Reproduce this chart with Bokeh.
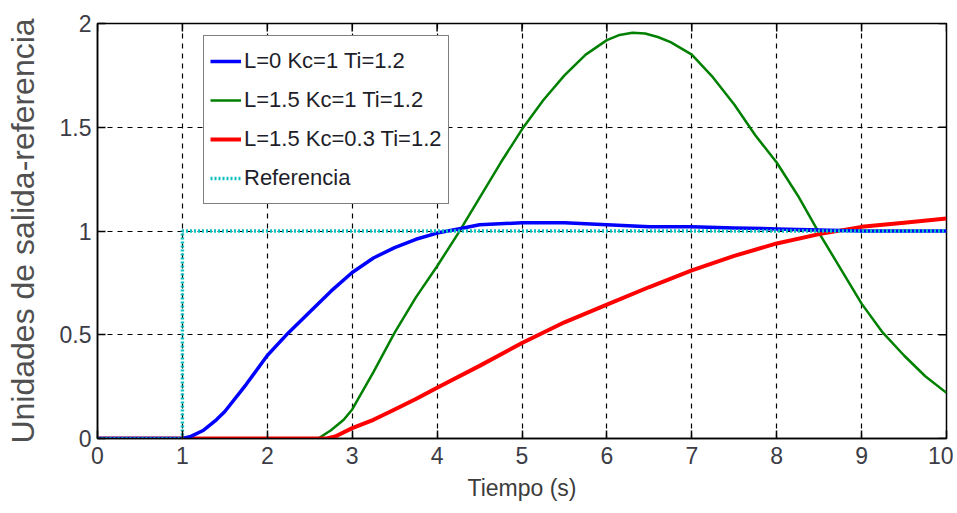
from bokeh.plotting import figure
from bokeh.models import Range1d, FixedTicker, Legend, LegendItem
from bokeh.embed import file_html
from bokeh.resources import INLINE

# ---- data ----
t_blue = [0, 1, 1.1, 1.25, 1.4, 1.5, 1.75, 2, 2.25, 2.5, 2.75, 3, 3.25, 3.5, 3.75, 4, 4.25, 4.5,
          5, 5.5, 6, 6.5, 7, 7.5, 8, 8.5, 9, 9.5, 10]
y_blue = [0, 0, 0.01, 0.04, 0.09, 0.13, 0.26, 0.40, 0.51, 0.61, 0.71, 0.80, 0.87, 0.92, 0.96, 0.99, 1.01, 1.03,
          1.04, 1.04, 1.03, 1.02, 1.02, 1.015, 1.01, 1.005, 1.0, 1.0, 1.0]

t_green = [0, 2.5, 2.6, 2.75, 2.9, 3, 3.25, 3.5, 3.75, 4, 4.25, 4.5, 4.75, 5, 5.25, 5.5, 5.75,
           6, 6.15, 6.3, 6.45, 6.6, 6.75, 7, 7.25, 7.5, 7.75, 8, 8.25, 8.5, 8.75, 9, 9.25, 9.5, 9.75, 10]
y_green = [0, 0, 0.0, 0.04, 0.09, 0.14, 0.32, 0.51, 0.68, 0.83, 0.99, 1.16, 1.33, 1.49, 1.63, 1.75, 1.85,
           1.92, 1.945, 1.955, 1.952, 1.935, 1.91, 1.85, 1.74, 1.61, 1.46, 1.33, 1.17, 0.99, 0.82, 0.65,
           0.51, 0.40, 0.30, 0.22]

t_red = [0, 2.7, 2.8, 3, 3.25, 3.5, 3.75, 4, 4.5, 5, 5.5, 6, 6.5, 7, 7.5, 8, 8.5, 9, 9.5, 10]
y_red = [0, 0, 0.01, 0.05, 0.09, 0.14, 0.19, 0.245, 0.35, 0.46, 0.56, 0.645, 0.73, 0.81, 0.88,
         0.94, 0.985, 1.02, 1.04, 1.06]

t_ref = [0, 1, 1, 10]
y_ref = [0, 0, 1, 1]

x_ticks = [0, 1, 2, 3, 4, 5, 6, 7, 8, 9, 10]
y_ticks = [0, 0.5, 1, 1.5, 2]
y_tick_labels = ["0", "0.5", "1", "1.5", "2"]

labels = ["L=0 Kc=1 Ti=1.2", "L=1.5 Kc=1 Ti=1.2", "L=1.5 Kc=0.3 Ti=1.2", "Referencia"]

X0, X1, Y0, Y1 = 0, 10, 0, 2

p = figure(width=953, height=505, output_backend="svg", toolbar_location=None,
           x_range=Range1d(X0, X1), y_range=Range1d(Y0, Y1),
           min_border_left=97, min_border_right=7, min_border_top=23, min_border_bottom=67)
p.background_fill_color = "white"
p.border_fill_color = "white"
p.outline_line_color = "black"
p.outline_line_width = 1.5

# grid
for g in (p.xgrid, p.ygrid):
    g.grid_line_color = "black"
    g.grid_line_dash = "5 5"
    g.grid_line_width = 1.2
p.xgrid.ticker = FixedTicker(ticks=x_ticks)
p.ygrid.ticker = FixedTicker(ticks=y_ticks)

# axes
p.xaxis.ticker = FixedTicker(ticks=x_ticks)
p.yaxis.ticker = FixedTicker(ticks=y_ticks)
p.yaxis.major_label_overrides = {v: s for v, s in zip(y_ticks, y_tick_labels)}
p.xaxis.axis_label = "Tiempo (s)"
p.yaxis.axis_label = "Unidades de salida-referencia"
for ax in (p.xaxis, p.yaxis):
    ax.axis_line_color = "black"
    ax.axis_line_width = 1.5
    ax.major_tick_in = 8
    ax.major_tick_out = 0
    ax.major_tick_line_width = 1.5
    ax.minor_tick_line_color = None
    ax.major_label_text_font = "Liberation Sans"
    ax.major_label_text_font_size = "23px"
    ax.major_label_text_color = "#3c3c46"
    ax.axis_label_text_font_style = "normal"
    ax.axis_label_text_color = "#3c3c3c"
p.xaxis.axis_label_text_font = "Liberation Sans"
p.xaxis.axis_label_text_font_size = "23px"
p.xaxis.major_label_standoff = 8
p.xaxis.axis_label_standoff = 8
p.yaxis.axis_label_text_font = "Liberation Sans"
p.yaxis.axis_label_text_font_size = "32px"
p.yaxis.axis_label_text_color = "#505050"
p.yaxis.major_label_standoff = 6
p.yaxis.axis_label_standoff = 16

# inward ticks on top and right edges, from the tick lists
TX = 8 / 84.9 * (X1 - X0) / 10
TY = 8 / 207.5 * (Y1 - Y0) / 2
p.segment(x0=x_ticks, y0=[Y1] * len(x_ticks), x1=x_ticks, y1=[Y1 - TY] * len(x_ticks),
          line_color="black", line_width=1.5)
p.segment(x0=[X1] * len(y_ticks), y0=y_ticks, x1=[X1 - TX] * len(y_ticks), y1=y_ticks,
          line_color="black", line_width=1.5)

# curves
rg = p.line(t_green, y_green, color="#008000", line_width=2.5)
rr = p.line(t_red, y_red, color="#ff0000", line_width=4)
rb = p.line(t_blue, y_blue, color="#0000ff", line_width=3.5)
rc = p.line(t_ref, y_ref, color="#10c0c0", line_width=3.5, line_dash="2 2")

legend = Legend(items=[LegendItem(label=labels[0], renderers=[rb]),
                       LegendItem(label=labels[1], renderers=[rg]),
                       LegendItem(label=labels[2], renderers=[rr]),
                       LegendItem(label=labels[3], renderers=[rc])],
                location=(106, 234))
legend.label_text_font = "Liberation Sans"
legend.label_text_font_size = "22px"
legend.label_text_color = "#1e1e2a"
legend.glyph_width = 31
legend.label_standoff = 3
legend.label_height = 38
legend.glyph_height = 38
legend.spacing = 1
legend.padding = 6
legend.margin = 0
legend.border_line_color = "black"
legend.border_line_width = 1.5
legend.background_fill_alpha = 1
p.add_layout(legend, "center")

open("out.html", "w").write(file_html(p, INLINE))
